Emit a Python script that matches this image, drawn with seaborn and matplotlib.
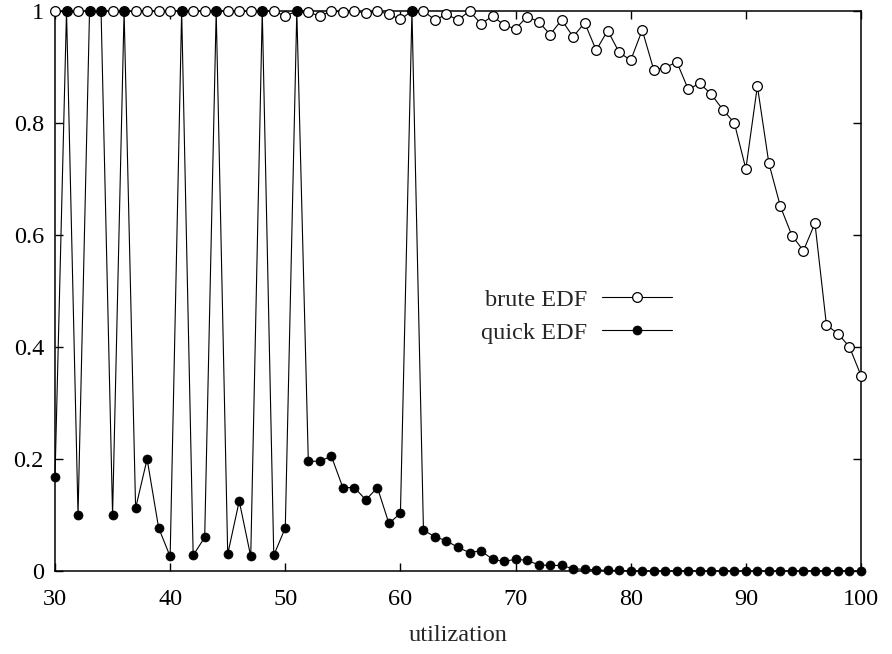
import numpy as np
import pandas as pd
import matplotlib
matplotlib.use('Agg')
import matplotlib.pyplot as plt
import seaborn as sns

utilization = list(range(30, 101))

brute_edf = [1.0] * 20 + [
    0.991, 1.0, 0.998, 0.991, 1.0, 0.998, 1.0, 0.996, 1.0, 0.994,   # 50-59
    0.985, 1.0, 1.0, 0.984, 0.994, 0.984, 1.0, 0.977, 0.991, 0.975,  # 60-69
    0.968, 0.990, 0.981, 0.958, 0.984, 0.954, 0.979, 0.930, 0.965, 0.926,  # 70-79
    0.912, 0.966, 0.895, 0.899, 0.909, 0.860, 0.871, 0.851, 0.824, 0.800,  # 80-89
    0.718, 0.866, 0.728, 0.651, 0.599, 0.572, 0.621, 0.439, 0.424, 0.400,  # 90-99
    0.349,
]

quick_edf = [
    0.167, 1.0, 0.100, 1.0, 1.0, 0.100, 1.0, 0.112, 0.200, 0.077,   # 30-39
    0.026, 1.0, 0.028, 0.060, 1.0, 0.030, 0.125, 0.026, 1.0, 0.028,  # 40-49
    0.077, 1.0, 0.196, 0.196, 0.205, 0.149, 0.149, 0.127, 0.149, 0.085,  # 50-59
    0.103, 1.0, 0.073, 0.061, 0.054, 0.042, 0.033, 0.036, 0.021, 0.017,  # 60-69
    0.021, 0.019, 0.011, 0.010, 0.010, 0.004, 0.003, 0.002, 0.001, 0.001,  # 70-79
] + [0.0] * 21

df = pd.DataFrame({'utilization': utilization, 'brute': brute_edf, 'quick': quick_edf})

sns.set_style('ticks')
plt.rcParams['font.family'] = ['Liberation Serif', 'DejaVu Serif']

fig = plt.figure(figsize=(8.92, 6.54), dpi=100)
ax = fig.add_axes([55 / 892, 83 / 654, 806 / 892, 560 / 654])

sns.lineplot(data=df, x='utilization', y='brute', ax=ax, color='black', lw=0.8,
             marker='o', markersize=7, markerfacecolor='white', markeredgecolor='black',
             markeredgewidth=0.9, label='brute EDF', clip_on=False, zorder=3)
sns.lineplot(data=df, x='utilization', y='quick', ax=ax, color='black', lw=0.8,
             marker='o', markersize=6.5, markerfacecolor='black', markeredgecolor='black',
             markeredgewidth=0.5, label='quick EDF', clip_on=False, zorder=4)

ax.set_xlim(30, 100)
ax.set_ylim(0, 1)
ax.set_xticks(range(30, 101, 10))
yt = [0, 0.2, 0.4, 0.6, 0.8, 1.0]
ax.set_yticks(yt)
ax.set_yticklabels(['0', '0.2', '0.4', '0.6', '0.8', '1'])
ax.tick_params(direction='in', length=6, width=1, labelsize=17.5, top=True, right=True,
               colors='black')
ax.tick_params(axis='x', pad=13)
ax.tick_params(axis='y', pad=8)
for s in ax.spines.values():
    s.set_linewidth(1.1)
    s.set_color('black')
    s.set_visible(True)
ax.set_xlabel('utilization', fontsize=17.5, labelpad=11)
ax.set_ylabel('')

leg = ax.legend(loc='center right', bbox_to_anchor=(0.766, 0.455), frameon=False,
                markerfirst=False, fontsize=17.5, handlelength=2.9, handletextpad=0.6,
                labelspacing=0.45, borderpad=0, borderaxespad=0)

fig.savefig('out.png', dpi=100)
